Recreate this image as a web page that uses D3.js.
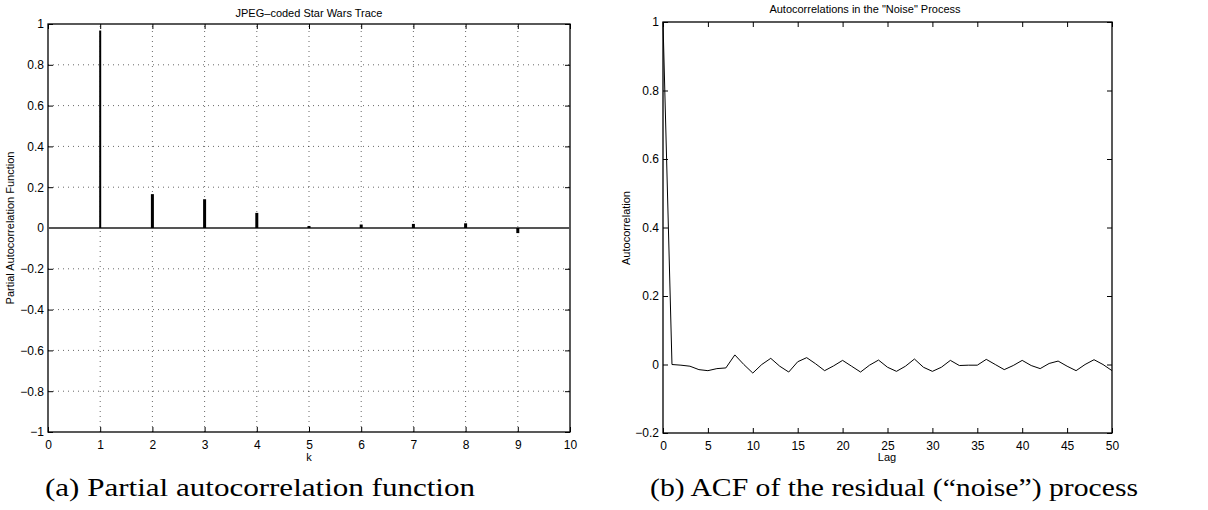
<!DOCTYPE html>
<html>
<head>
<meta charset="utf-8">
<script src="https://cdn.jsdelivr.net/npm/d3@7"></script>
<style>
body { margin: 0; background: #fff; }
text { font-family: "Liberation Sans", Arial, sans-serif; }
</style>
</head>
<body>
<svg id="chart" width="1208" height="510"></svg>
<script>
// left panel: partial autocorrelation
var pacfLags = [1, 2, 3, 4, 5, 6, 7, 8, 9];
var pacfValues = [0.968, 0.166, 0.141, 0.074, 0.01, 0.017, 0.02, 0.023, -0.025];
var pacfXTicks = [0, 1, 2, 3, 4, 5, 6, 7, 8, 9, 10];
var pacfYTicks = [-1, -0.8, -0.6, -0.4, -0.2, 0, 0.2, 0.4, 0.6, 0.8, 1];

// right panel: ACF of residual
var acfValues = [1, 0.0, -0.002, -0.005, -0.015, -0.018, -0.012, -0.01, 0.028, 0.0,
	-0.025, 0.0, 0.018, -0.005, -0.022, 0.008, 0.02, 0.002, -0.018, -0.004,
	0.012, -0.005, -0.022, -0.002, 0.013, -0.008, -0.02, -0.005, 0.016, -0.008,
	-0.02, -0.008, 0.012, -0.003, -0.002, -0.002, 0.015, 0.0, -0.015, -0.003,
	0.012, -0.003, -0.012, 0.003, 0.01, -0.005, -0.018, 0.0, 0.014, 0.0, -0.018];
var acfXTicks = [0, 5, 10, 15, 20, 25, 30, 35, 40, 45, 50];
var acfYTicks = [-0.2, 0, 0.2, 0.4, 0.6, 0.8, 1];

var svg = d3.select("#chart");
var fmt = function(d) { return d3.format("")(d).replace("-", "\u2212"); };

function frame(g, x, y, xTicks, yTicks, grid) {
	var x0 = x.range()[0], x1 = x.range()[1], y0 = y.range()[0], y1 = y.range()[1];
	if (grid) {
		g.append("g").selectAll("line").data(xTicks.slice(1, -1)).enter().append("line")
			.attr("x1", x).attr("x2", x).attr("y1", y0).attr("y2", y1)
			.attr("stroke", "#000").attr("stroke-width", 0.6).attr("stroke-dasharray", "1,4");
		g.append("g").selectAll("line").data(yTicks.slice(1, -1)).enter().append("line")
			.attr("y1", y).attr("y2", y).attr("x1", x0).attr("x2", x1)
			.attr("stroke", "#000").attr("stroke-width", 0.6).attr("stroke-dasharray", "1,4");
	}
	// inward ticks on all four sides
	g.append("g").attr("transform", "translate(0," + y0 + ")")
		.call(d3.axisBottom(x).tickValues(xTicks).tickSizeInner(-5).tickSizeOuter(0).tickPadding(8).tickFormat(fmt));
	g.append("g").attr("transform", "translate(0," + y1 + ")")
		.call(d3.axisTop(x).tickValues(xTicks).tickSizeInner(-5).tickSizeOuter(0).tickFormat(""));
	g.append("g").attr("transform", "translate(" + x0 + ",0)")
		.call(d3.axisLeft(y).tickValues(yTicks).tickSizeInner(-5).tickSizeOuter(0).tickPadding(4).tickFormat(fmt));
	g.append("g").attr("transform", "translate(" + x1 + ",0)")
		.call(d3.axisRight(y).tickValues(yTicks).tickSizeInner(-5).tickSizeOuter(0).tickFormat(""));
	g.selectAll(".domain").remove();
	g.selectAll(".tick line").attr("stroke", "#000");
	g.selectAll(".tick text").style("font-size", "12px").attr("fill", "#000");
	g.append("rect").attr("x", x0).attr("y", y1).attr("width", x1 - x0).attr("height", y0 - y1)
		.attr("fill", "none").attr("stroke", "#000").attr("stroke-width", 1.3);
}

// ---- left panel
var xa = d3.scaleLinear().domain([0, 10]).range([48, 570]);
var ya = d3.scaleLinear().domain([-1, 1]).range([432, 24]);
var ga = svg.append("g");
frame(ga, xa, ya, pacfXTicks, pacfYTicks, true);

ga.append("line").attr("x1", xa(0)).attr("x2", xa(10)).attr("y1", ya(0)).attr("y2", ya(0))
	.attr("stroke", "#555").attr("stroke-width", 2);

ga.selectAll(".bar").data(pacfLags).enter().append("rect")
	.attr("class", "bar")
	.attr("x", function(d, i) { return xa(d) - (i === 0 ? 1 : 1.5); })
	.attr("width", function(d, i) { return i === 0 ? 2 : 3; })
	.attr("y", function(d, i) { return ya(Math.max(0, pacfValues[i])); })
	.attr("height", function(d, i) { return Math.abs(ya(pacfValues[i]) - ya(0)); })
	.attr("fill", "#000");

ga.append("text").attr("x", 309).attr("y", 17).attr("text-anchor", "middle")
	.style("font-size", "11px").text("JPEG\u2013coded Star Wars Trace");
ga.append("text").attr("x", 309).attr("y", 461).attr("text-anchor", "middle")
	.style("font-size", "11px").text("k");
ga.append("text").attr("transform", "translate(14,228) rotate(-90)").attr("text-anchor", "middle")
	.style("font-size", "11px").text("Partial Autocorrelation Function");

// ---- right panel
var xb = d3.scaleLinear().domain([0, 50]).range([663, 1112]);
var yb = d3.scaleLinear().domain([-0.2, 1]).range([433, 22]);
var gb = svg.append("g");
frame(gb, xb, yb, acfXTicks, acfYTicks, false);

var line = d3.line()
	.x(function(d, i) { return xb(i); })
	.y(function(d) { return yb(d); });
gb.append("path").datum(acfValues).attr("d", line)
	.attr("fill", "none").attr("stroke", "#000").attr("stroke-width", 1);

gb.append("text").attr("x", 865).attr("y", 13).attr("text-anchor", "middle")
	.style("font-size", "11px").text("Autocorrelations in the \"Noise\" Process");
gb.append("text").attr("x", 887).attr("y", 461).attr("text-anchor", "middle")
	.style("font-size", "11px").text("Lag");
gb.append("text").attr("transform", "translate(630,228) rotate(-90)").attr("text-anchor", "middle")
	.style("font-size", "11px").text("Autocorrelation");

// ---- captions
svg.append("text").attr("x", 260).attr("y", 496).attr("text-anchor", "middle")
	.attr("textLength", 430).attr("lengthAdjust", "spacingAndGlyphs")
	.style("font-family", "'Liberation Serif', serif").style("font-size", "25px")
	.text("(a) Partial autocorrelation function");
svg.append("text").attr("x", 894).attr("y", 496).attr("text-anchor", "middle")
	.attr("textLength", 488).attr("lengthAdjust", "spacingAndGlyphs")
	.style("font-family", "'Liberation Serif', serif").style("font-size", "25px")
	.text("(b) ACF of the residual (\u201cnoise\u201d) process");
</script>
</body>
</html>
